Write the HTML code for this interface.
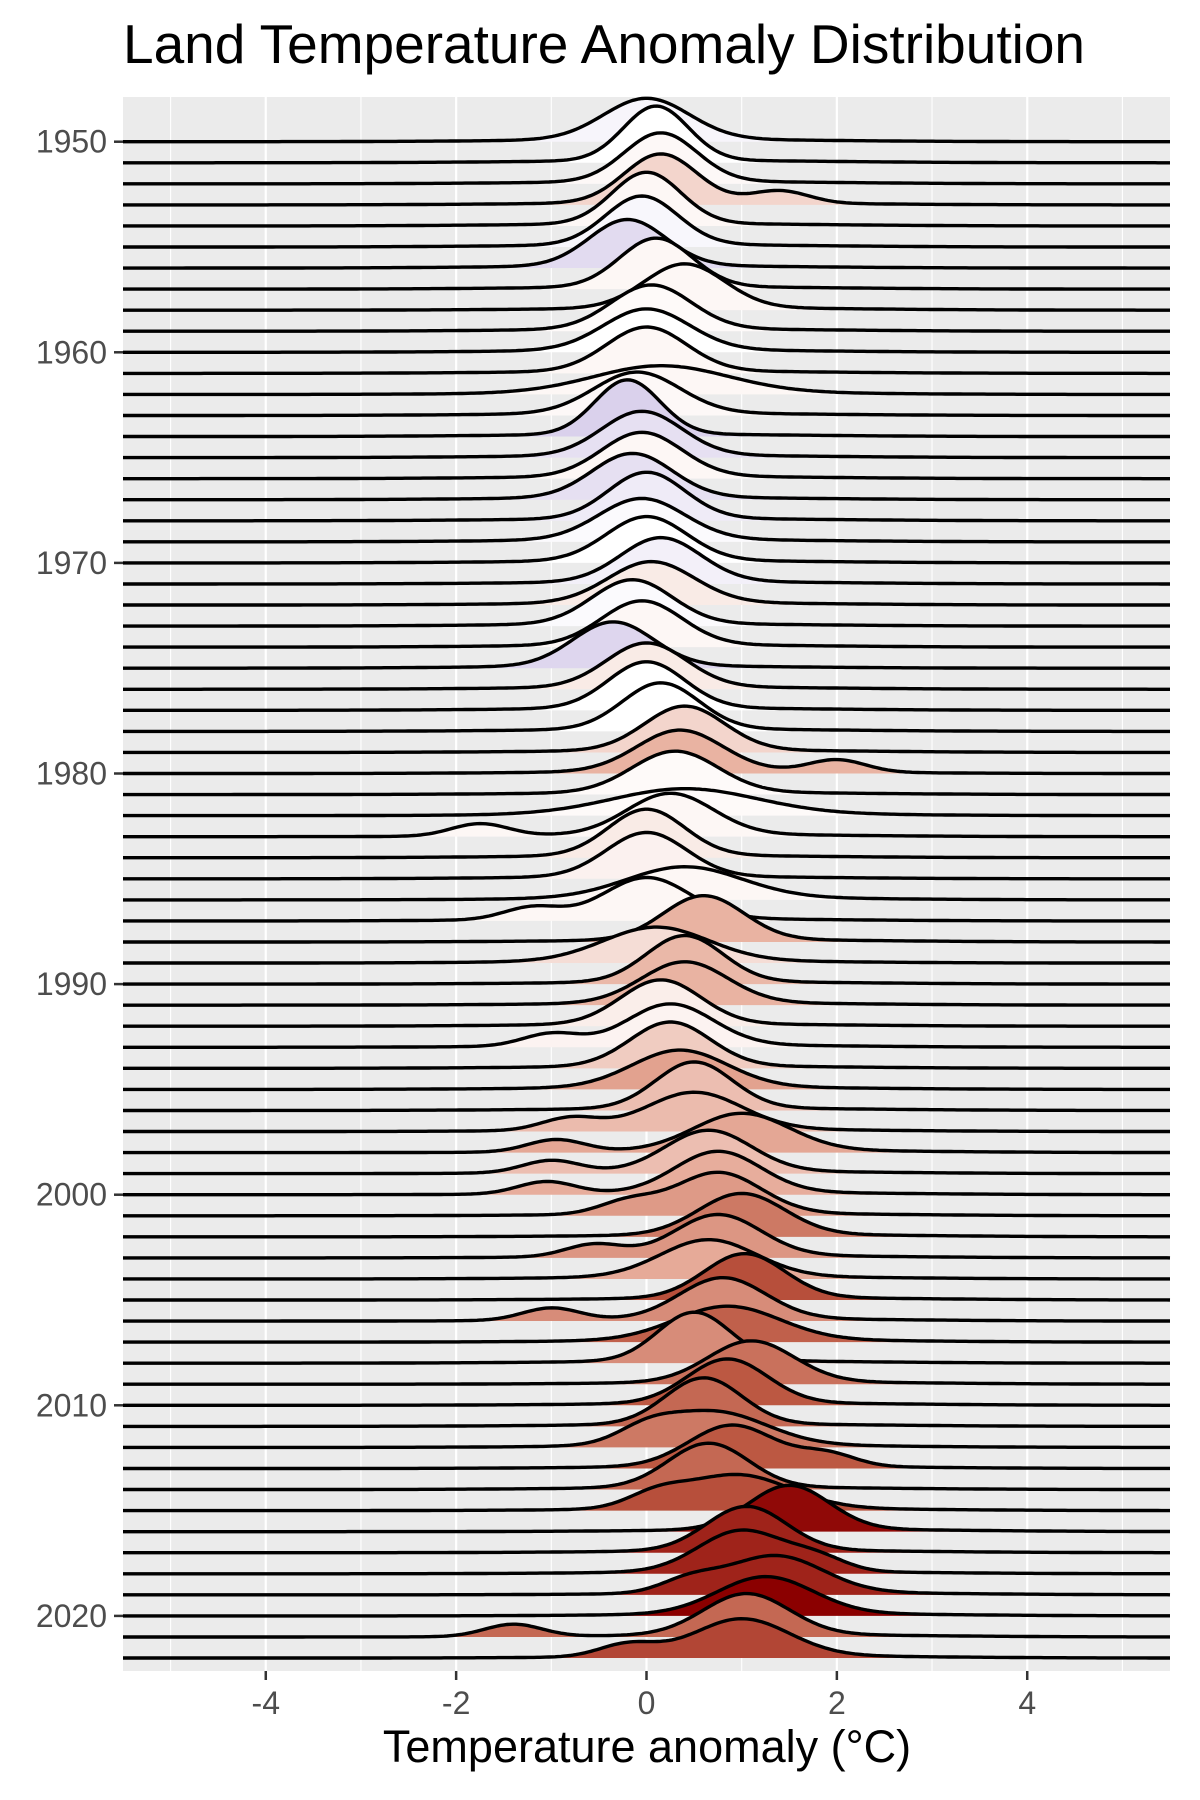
<!DOCTYPE html>
<html><head><meta charset="utf-8"><style>
html,body{margin:0;padding:0;background:#fff;}
svg{display:block;font-family:"Liberation Sans",sans-serif;}
</style></head><body>
<svg id="chart" width="1200" height="1800" viewBox="0 0 1200 1800">
<text x="123" y="63" font-size="55" fill="#000">Land Temperature Anomaly Distribution</text>
<rect x="123" y="97" width="1047" height="1574" fill="#ebebeb"/>
<g id="grid"></g><g id="ridges"></g><g id="axes"></g>
<text x="647" y="1762" font-size="45" text-anchor="middle" fill="#000">Temperature anomaly (°C)</text>
</svg>
<script>
const years = [];
for (let y = 1950; y <= 2022; y++) years.push(y);
const peakMu = [0.0,0.1,0.15,0.15,0.0,-0.05,-0.2,0.1,0.4,0.05,
0.0,0.0,0.15,-0.1,-0.2,-0.05,-0.05,-0.15,0.0,-0.05,
0.0,0.15,0.05,-0.15,-0.05,-0.35,0.0,0.0,0.15,0.4,
0.35,0.3,0.4,0.25,0.0,0.0,0.4,0.0,0.6,0.1,
0.4,0.4,0.15,0.25,0.25,0.35,0.5,0.5,1.0,0.65,
0.75,0.75,1.0,0.75,0.65,1.03,0.8,0.85,0.5,1.1,
0.85,0.6,0.7,0.9,0.65,0.95,1.5,1.05,1.0,1.35,
1.25,1.05,1.0];
const peakSd = [0.45,0.34,0.38,0.38,0.36,0.38,0.4,0.38,0.42,0.42,
0.45,0.42,0.7,0.45,0.34,0.42,0.42,0.42,0.4,0.45,
0.42,0.42,0.45,0.42,0.42,0.42,0.42,0.4,0.4,0.42,
0.45,0.45,0.75,0.45,0.4,0.42,0.6,0.45,0.42,0.55,
0.4,0.45,0.42,0.45,0.42,0.5,0.4,0.5,0.5,0.45,
0.45,0.45,0.45,0.45,0.5,0.42,0.45,0.55,0.38,0.45,
0.42,0.4,0.55,0.45,0.42,0.55,0.42,0.42,0.45,0.5,
0.5,0.45,0.5];
const meanAnom = [-0.1,0.0,0.04,0.25,0.05,-0.08,-0.35,0.05,0.05,0.03,
0.0,0.05,0.05,0.04,-0.45,-0.3,0.05,-0.3,-0.2,-0.05,
0.0,-0.15,0.12,-0.05,0.05,-0.4,0.12,0.0,0.0,0.25,
0.45,0.03,0.03,0.05,0.12,0.08,0.05,0.05,0.45,0.2,
0.42,0.45,0.1,0.07,0.3,0.55,0.38,0.4,0.52,0.38,
0.48,0.6,0.8,0.62,0.5,1.05,0.68,0.95,0.68,0.85,
1.0,0.9,0.8,1.0,0.9,1.05,1.45,1.3,1.3,1.3,
1.5,0.9,1.1];
const bumpMu = {1953:1.4,1980:2.0,1983:-1.75,1987:-1.2,1993:-1.0,1997:-0.8,1998:-0.95,1999:-1.0,2000:-1.05,2001:-0.2,2003:-0.55,2006:-1.0,2012:0.0,2013:1.9,2015:0.1,2018:1.8,2019:0.45,2021:-1.4,2022:-0.2};
const xTicks = [-4,-2,0,2,4];
const yTickYears = [1950,1960,1970,1980,1990,2000,2010,2020];

const NS="http://www.w3.org/2000/svg";
const X0=123,X1=1170,XMIN=-5.5,XMAX=5.5;
const xs=v=>X0+(v-XMIN)/(XMAX-XMIN)*(X1-X0);
const baseY=yr=>141.7+(yr-1950)*21.06;
const K=58;
function g(x,m,s){return Math.exp(-0.5*((x-m)/s)**2)/(s*Math.sqrt(2*Math.PI));}
function lerp(a,b,t){return a.map((v,i)=>Math.round(v+(b[i]-v)*t));}
function color(v){
  const stops=[[-0.5,[214,204,234]],[0,[255,255,255]],[0.5,[230,170,152]],[1.0,[188,88,66]],[1.5,[139,0,0]]];
  if(v<=stops[0][0])return `rgb(${stops[0][1]})`;
  for(let i=1;i<stops.length;i++){if(v<=stops[i][0]){const t=(v-stops[i-1][0])/(stops[i][0]-stops[i-1][0]);return `rgb(${lerp(stops[i-1][1],stops[i][1],t)})`;}}
  return `rgb(${stops[stops.length-1][1]})`;
}
const grid=document.getElementById('grid');
for(let v=-5;v<=5;v++){
  const l=document.createElementNS(NS,'line');
  l.setAttribute('x1',xs(v));l.setAttribute('x2',xs(v));l.setAttribute('y1',97);l.setAttribute('y2',1671);
  l.setAttribute('stroke','#fff');l.setAttribute('stroke-width',v%2===0?2.2:1.1);
  
  
  grid.appendChild(l);
}
const ridges=document.getElementById('ridges');
years.forEach((yr,i)=>{
  const m=peakMu[i],s=peakSd[i],b=bumpMu[yr];
  const y0=baseY(yr);
  let pts=[];
  for(let px=X0;px<=X1;px+=3){
    const x=XMIN+(px-X0)/(X1-X0)*(XMAX-XMIN);
    let d=0.8*g(x,m,s)+0.15*g(x,m+0.3,1.5);
    if(b!==undefined)d+=0.16*g(x,b,0.3);
    pts.push([px,y0-K*d]);
  }
  const line=pts.map((p,j)=>(j?'L':'M')+p[0].toFixed(1)+','+p[1].toFixed(1)).join('');
  const fill=document.createElementNS(NS,'path');
  fill.setAttribute('d',line+`L${X1},${y0}L${X0},${y0}Z`);
  fill.setAttribute('fill',color(meanAnom[i]));
  
  
  ridges.appendChild(fill);
  const p=document.createElementNS(NS,'path');
  p.setAttribute('d',line);p.setAttribute('fill','none');p.setAttribute('stroke','#000');p.setAttribute('stroke-width',3.4);
  
  
  ridges.appendChild(p);
});
const axes=document.getElementById('axes');
xTicks.forEach(v=>{
  const t=document.createElementNS(NS,'line');
  t.setAttribute('x1',xs(v));t.setAttribute('x2',xs(v));t.setAttribute('y1',1671);t.setAttribute('y2',1680);
  t.setAttribute('stroke','#333');t.setAttribute('stroke-width',2.5);
  
  
  axes.appendChild(t);
  const tx=document.createElementNS(NS,'text');
  tx.setAttribute('x',xs(v));tx.setAttribute('y',1714);tx.setAttribute('font-size',32);tx.setAttribute('fill','#4d4d4d');tx.setAttribute('text-anchor','middle');
  tx.textContent=v;
  
  
  axes.appendChild(tx);
});
yTickYears.forEach(yr=>{
  const y=baseY(yr);
  const t=document.createElementNS(NS,'line');
  t.setAttribute('x1',114);t.setAttribute('x2',123);t.setAttribute('y1',y);t.setAttribute('y2',y);
  t.setAttribute('stroke','#333');t.setAttribute('stroke-width',2.5);
  
  
  axes.appendChild(t);
  const tx=document.createElementNS(NS,'text');
  tx.setAttribute('x',107);tx.setAttribute('y',y+11);tx.setAttribute('font-size',32);tx.setAttribute('fill','#4d4d4d');tx.setAttribute('text-anchor','end');
  tx.textContent=yr;
  
  
  axes.appendChild(tx);
});
</script>
</body></html>
